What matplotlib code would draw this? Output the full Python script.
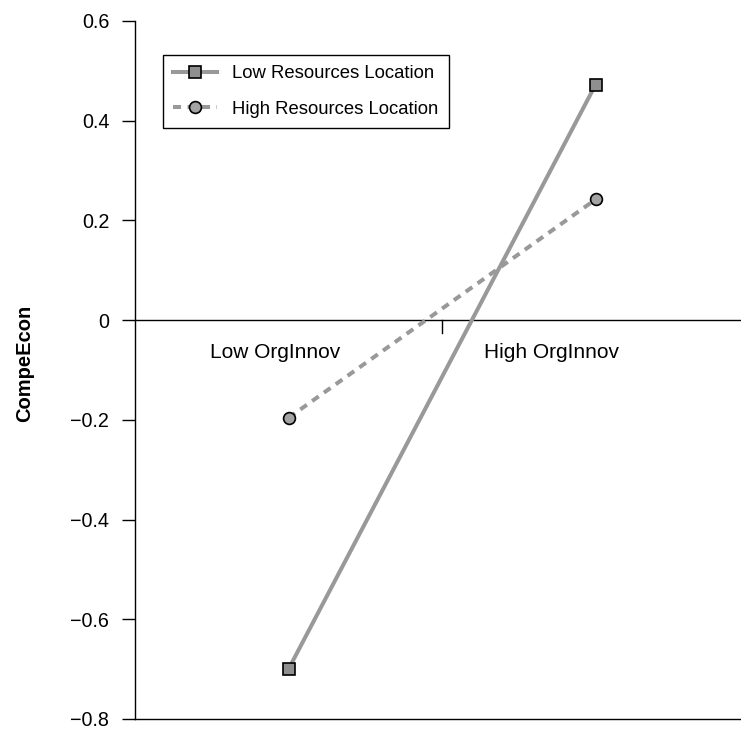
import matplotlib
matplotlib.use("Agg")
import matplotlib.pyplot as plt

plt.rcParams['font.family'] = ['Liberation Sans', 'DejaVu Sans']

# data
x_pos = [0.5, 1.5]
group_labels = ['Low OrgInnov', 'High OrgInnov']
low_res = [-0.70, 0.472]
high_res = [-0.196, 0.242]
y_ticks = [-0.8, -0.6, -0.4, -0.2, 0, 0.2, 0.4, 0.6]
y_ticklabels = ['\u22120.8', '\u22120.6', '\u22120.4', '\u22120.2', '0', '0.2', '0.4', '0.6']

fig = plt.figure(figsize=(7.41, 7.29), dpi=100)
ax = fig.add_axes([135 / 741, 10 / 729, 614 / 741, 698 / 729])

line_col = '#999999'
ax.plot(x_pos, low_res, color=line_col, lw=2.9, marker='s', ms=8,
        mfc='#8f8f8f', mec='black', mew=1.2, label='Low Resources Location', zorder=3)
ax.plot(x_pos, high_res, color=line_col, lw=2.9, ls=(0, (2.0, 1.6)), marker='o', ms=8.5,
        mfc='#a3a3a3', mec='black', mew=1.2, label='High Resources Location', zorder=3)

# zero line with centre tick
ax.axhline(0, color='black', lw=1, zorder=1)
ax.plot([1, 1], [0, -0.025], color='black', lw=1, zorder=1)

ax.text(0.456, -0.064, group_labels[0], ha='center', va='center', fontsize=15)
ax.text(1.358, -0.064, group_labels[1], ha='center', va='center', fontsize=15)

ax.set_xlim(0, 2)
ax.set_ylim(-0.8, 0.6)
ax.set_yticks(y_ticks)
ax.set_yticklabels(y_ticklabels, fontsize=14.2)
ax.set_xticks([])
ax.tick_params(axis='y', length=9.5, width=1, pad=9)
for s in ['top', 'right']:
    ax.spines[s].set_visible(False)
for s in ['left', 'bottom']:
    ax.spines[s].set_linewidth(1)

fig.text(25 / 741, 1 - 363 / 729, 'CompeEcon', rotation=90, ha='center', va='center',
         fontsize=14.5, fontweight='bold')

leg = ax.legend(loc='upper left', bbox_to_anchor=(0.0456, 0.951), fontsize=13.3,
                frameon=True, fancybox=False, edgecolor='black', framealpha=1,
                handlelength=2.4, borderpad=0.55, labelspacing=1.0, handletextpad=0.8,
                borderaxespad=0)
leg.get_frame().set_linewidth(1)

fig.savefig('out.png', dpi=100)
